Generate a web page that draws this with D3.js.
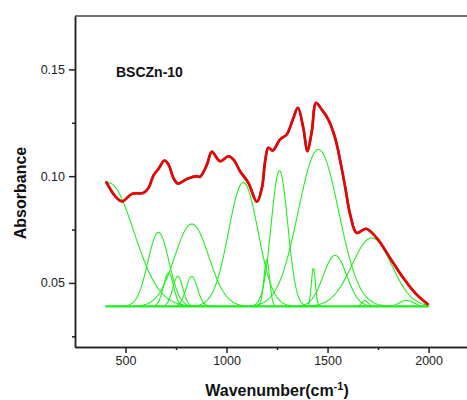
<!DOCTYPE html>
<html>
<head>
<meta charset="utf-8">
<script src="https://cdn.jsdelivr.net/npm/d3@7"></script>
<style>
  html, body { margin: 0; padding: 0; background: #fff; }
  svg { display: block; font-family: "Liberation Sans", Arial, sans-serif; }
</style>
</head>
<body>
<svg id="chart" width="467" height="400"></svg>
<script>
// ---- data ----
const fitWavenumber = [403, 449, 482, 532, 589, 614, 638, 663, 693, 713, 737, 759, 804, 853, 869, 903, 927, 968, 1009, 1034, 1067, 1108, 1150, 1175, 1191, 1207, 1229, 1265, 1298, 1328, 1353, 1380, 1400, 1422, 1443, 1471, 1504, 1537, 1563, 1588, 1612, 1644, 1690, 1743, 1809, 1875, 1941, 1999];
const fitAbsorbance = [0.0976, 0.0906, 0.0882, 0.0917, 0.0922, 0.0945, 0.1003, 0.1034, 0.1073, 0.1054, 0.0992, 0.0965, 0.0987, 0.1000, 0.0997, 0.1054, 0.1114, 0.1070, 0.1093, 0.1078, 0.1023, 0.0969, 0.0880, 0.0945, 0.1070, 0.1133, 0.1120, 0.1172, 0.1195, 0.1265, 0.1320, 0.1226, 0.1117, 0.1210, 0.1343, 0.1312, 0.1265, 0.1180, 0.1070, 0.0945, 0.0820, 0.0734, 0.0754, 0.0711, 0.0617, 0.0523, 0.0445, 0.0398];

// fitted component peaks (Gaussian): centre, height above baseline, width (sigma)
const peakCenters = [416, 663, 713, 759, 828, 828, 1083, 1199, 1262, 1430, 1455, 1537, 1685, 1719, 1892];
const peakHeights = [0.0579, 0.0347, 0.0157, 0.0141, 0.0141, 0.0386, 0.0580, 0.0219, 0.0636, 0.0180, 0.0735, 0.0239, 0.0028, 0.0321, 0.0028];
const peakSigmas  = [125, 52, 25, 25, 28, 84, 73, 14, 41, 10, 100, 58, 15, 98, 35];
const baselineLevel = 0.039;
const peakRange = [400, 2000];

const xTicks = [500, 1000, 1500, 2000];
const xMinorTicks = [750, 1250, 1750];
const yTicks = [0.05, 0.10, 0.15];
const yMinorTicks = [0.025, 0.075, 0.125];
const sampleLabel = "BSCZn-10";

// ---- layout ----
const svg = d3.select("#chart");
const mLeft = 75, mTop = 16, mBottom = 347, mRight = 469;

const x = d3.scaleLinear().domain([250, 2200]).range([mLeft, mRight]);
const y = d3.scaleLinear().domain([0.02, 0.175]).range([mBottom, mTop]);

// components
const plot = svg.append("g");
const line = d3.line().x(d => x(d[0])).y(d => y(d[1]));

const samples = d3.range(peakRange[0], peakRange[1] + 0.1, 4);
peakCenters.forEach((c, i) => {
  const pts = samples.map(w => [w, baselineLevel + peakHeights[i] * Math.exp(-((w - c) ** 2) / (2 * peakSigmas[i] ** 2))]);
  plot.append("path").attr("d", line(pts))
    .attr("fill", "none").attr("stroke", "#22ee22").attr("stroke-width", 1.1);
});
// baseline
plot.append("path").attr("d", line(peakRange.map(w => [w, baselineLevel])))
  .attr("fill", "none").attr("stroke", "#22ee22").attr("stroke-width", 2.2);

// fitted envelope
const fitLine = d3.line().x(d => x(d[0])).y(d => y(d[1])).curve(d3.curveCatmullRom.alpha(0.5));
const fitPts = fitWavenumber.map((w, i) => [w, fitAbsorbance[i]]);
plot.append("path").attr("d", fitLine(fitPts))
  .attr("fill", "none").attr("stroke", "#555").attr("stroke-width", 2.6);
plot.append("path").attr("d", fitLine(fitPts))
  .attr("fill", "none").attr("stroke", "#f00000").attr("stroke-width", 2.5);

// axes
const xAxis = d3.axisBottom(x).tickValues(xTicks).tickSize(6).tickSizeOuter(0).tickPadding(3).tickFormat(d3.format("d"));
svg.append("g").attr("transform", `translate(0,${mBottom})`).call(xAxis);
const yAxis = d3.axisLeft(y).tickValues(yTicks).tickSize(6).tickSizeOuter(0).tickPadding(4).tickFormat(d3.format(".2f"));
svg.append("g").attr("transform", `translate(${mLeft},0)`).call(yAxis);

svg.append("g").attr("transform", `translate(0,${mBottom})`)
  .call(d3.axisBottom(x).tickValues(xMinorTicks).tickSize(3).tickSizeOuter(0).tickFormat(""));
svg.append("g").attr("transform", `translate(${mLeft},0)`)
  .call(d3.axisLeft(y).tickValues(yMinorTicks).tickSize(3).tickSizeOuter(0).tickFormat(""));

svg.selectAll(".domain, .tick line").attr("stroke", "#222").attr("stroke-width", 1.5);
svg.selectAll(".tick text").attr("font-size", "12.5px").attr("fill", "#222")
  .attr("font-family", "'Liberation Sans', Arial, sans-serif");

// top frame line
svg.append("line").attr("x1", mLeft).attr("x2", mRight).attr("y1", mTop).attr("y2", mTop)
  .attr("stroke", "#444").attr("stroke-width", 1.5);

// titles
svg.append("text").attr("x", 277).attr("y", 396).attr("text-anchor", "middle")
  .attr("font-size", "16px").attr("font-weight", "bold").attr("fill", "#111")
  .call(t => {
    t.append("tspan").text("Wavenumber(cm");
    t.append("tspan").attr("font-size", "11px").attr("dy", -6).text("-1");
    t.append("tspan").attr("dy", 6).text(")");
  });

svg.append("text").attr("transform", "translate(26,193) rotate(-90)")
  .attr("text-anchor", "middle").attr("font-size", "16px").attr("font-weight", "bold").attr("fill", "#111")
  .text("Absorbance");

svg.append("text").attr("x", 116).attr("y", 77)
  .attr("font-size", "14px").attr("font-weight", "bold").attr("fill", "#111")
  .text(sampleLabel);
</script>
</body>
</html>
